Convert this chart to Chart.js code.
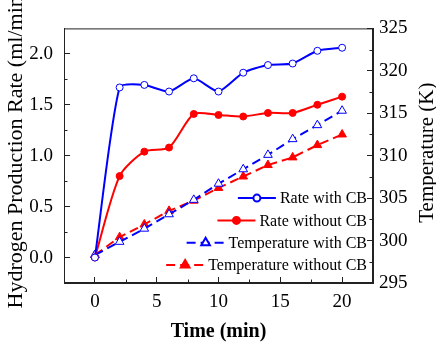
<!DOCTYPE html>
<html>
<head>
<meta charset="utf-8">
<script src="https://cdn.jsdelivr.net/npm/chart.js@4.4.1/dist/chart.umd.min.js"></script>
<style>
  html, body { margin: 0; padding: 0; background: #fff; }
</style>
</head>
<body>
<canvas id="chart" width="436" height="346"></canvas>
<script>
// values
const times = [0, 2, 4, 6, 8, 10, 12, 14, 16, 18, 20];
const rateWithCB = [0, 1.67, 1.695, 1.63, 1.76, 1.63, 1.815, 1.89, 1.905, 2.03, 2.06];
const rateWithoutCB = [0, 0.8, 1.04, 1.08, 1.41, 1.4, 1.385, 1.42, 1.42, 1.5, 1.58];
const tempWithCB = [298.3, 299.85, 301.4, 303.1, 304.8, 306.7, 308.4, 310.1, 311.95, 313.6, 315.3];
const tempWithoutCB = [298.3, 300.4, 301.9, 303.5, 304.7, 306.2, 307.55, 308.9, 309.8, 311.25, 312.5];

// tick labels
const timeTicks = [0, 5, 10, 15, 20];
const rateTicks = [0, 0.5, 1.0, 1.5, 2.0];
const tempTicks = [295, 300, 305, 310, 315, 320, 325];
const timeMinor = [2.5, 7.5, 12.5, 17.5];
const rateMinor = [0.25, 0.75, 1.25, 1.75];
const tempMinor = [297.5, 302.5, 307.5, 312.5, 317.5, 322.5];

const serif = "'Liberation Serif', 'Times New Roman', serif";
Chart.defaults.font.family = serif;
Chart.defaults.color = '#000';

const toPoints = (ys) => times.map((t, i) => ({ x: t, y: ys[i] }));
const axisColor = '#222';

function sideTitle(ctx, title, x, y) {
  ctx.save();
  ctx.fillStyle = '#000';
  ctx.font = `${title.font.size}px ${serif}`;
  ctx.textAlign = 'center';
  ctx.textBaseline = 'middle';
  ctx.translate(x, y);
  ctx.rotate(-Math.PI / 2);
  ctx.fillText(title.text, 0, 0);
  ctx.restore();
}

// frame round the plot + the short minor ticks (inward, like the original)
const framePlugin = {
  id: 'frame',
  afterDraw(chart) {
    const { ctx, chartArea: a, scales } = chart;
    ctx.save();
    ctx.strokeStyle = axisColor;
    ctx.lineWidth = 1;
    ctx.strokeRect(a.left + 0.5, a.top + 0.5, a.right - a.left - 1, a.bottom - a.top - 1);
    ctx.beginPath();
    timeMinor.forEach((v) => {
      const px = Math.round(scales.x.getPixelForValue(v)) + 0.5;
      ctx.moveTo(px, a.bottom);
      ctx.lineTo(px, a.bottom - 3.5);
    });
    rateMinor.forEach((v) => {
      const py = Math.round(scales.y.getPixelForValue(v)) + 0.5;
      ctx.moveTo(a.left, py);
      ctx.lineTo(a.left + 3.5, py);
    });
    tempMinor.forEach((v) => {
      const py = Math.round(scales.y2.getPixelForValue(v)) + 0.5;
      ctx.moveTo(a.right, py);
      ctx.lineTo(a.right - 3.5, py);
    });
    ctx.stroke();
    ctx.restore();

    // both side titles read bottom-to-top and sit a little above the middle
    const mid = (a.top + a.bottom) / 2;
    sideTitle(ctx, chart.options.scales.y.title, 16.5, mid - 7);
    sideTitle(ctx, chart.options.scales.y2.title, 427, mid - 3);
  },
};

// legend inside the plot, right aligned, line sample with marker in it
const insideLegend = {
  id: 'insideLegend',
  afterDraw(chart) {
    const { ctx, chartArea: a } = chart;
    const sets = chart.data.datasets;
    ctx.save();
    ctx.font = `16px ${serif}`;
    ctx.textBaseline = 'middle';
    ctx.textAlign = 'left';
    sets.forEach((ds, i) => {
      const y = a.bottom - 18 - (sets.length - 1 - i) * 22.3;
      const w = ctx.measureText(ds.label).width;
      const tx = a.right - 6 - w;
      const x2 = tx - 4;
      const x1 = x2 - 38;
      ctx.strokeStyle = ds.borderColor;
      ctx.lineWidth = ds.borderWidth;
      ctx.setLineDash(ds.borderDash || []);
      ctx.beginPath();
      ctx.moveTo(x1, y);
      ctx.lineTo(x2, y);
      ctx.stroke();
      ctx.setLineDash([]);
      ctx.fillStyle = ds.pointBackgroundColor;
      ctx.strokeStyle = ds.pointBorderColor;
      Chart.helpers.drawPoint(ctx, {
        pointStyle: ds.pointStyle,
        radius: ds.pointRadius,
        borderWidth: ds.pointBorderWidth,
        rotation: 0,
      }, (x1 + x2) / 2, y);
      ctx.fillStyle = '#000';
      ctx.fillText(ds.label, tx, y + 1);
    });
    ctx.restore();
  },
};

new Chart(document.getElementById('chart'), {
  type: 'line',
  data: {
    datasets: [
      {
        label: 'Rate with CB',
        data: toPoints(rateWithCB),
        yAxisID: 'y',
        borderColor: '#0000ff',
        borderWidth: 2,
        tension: 0.2,
        pointStyle: 'circle',
        pointRadius: 3.5,
        pointBorderWidth: 1,
        pointBorderColor: '#0000ff',
        pointBackgroundColor: '#ffffff',
      },
      {
        label: 'Rate without CB',
        data: toPoints(rateWithoutCB),
        yAxisID: 'y',
        borderColor: '#ff0000',
        borderWidth: 2,
        tension: 0.25,
        pointStyle: 'circle',
        pointRadius: 3.5,
        pointBorderWidth: 1,
        pointBorderColor: '#ff0000',
        pointBackgroundColor: '#ff0000',
      },
      {
        label: 'Temperature with CB',
        data: toPoints(tempWithCB),
        yAxisID: 'y2',
        borderColor: '#0000ff',
        borderWidth: 2,
        borderDash: [9, 5],
        tension: 0,
        pointStyle: 'triangle',
        pointRadius: 5,
        pointBorderWidth: 1,
        pointBorderColor: '#0000ff',
        pointBackgroundColor: '#ffffff',
      },
      {
        label: 'Temperature without CB',
        data: toPoints(tempWithoutCB),
        yAxisID: 'y2',
        borderColor: '#ff0000',
        borderWidth: 2,
        borderDash: [9, 5],
        tension: 0,
        pointStyle: 'triangle',
        pointRadius: 5,
        pointBorderWidth: 1,
        pointBorderColor: '#ff0000',
        pointBackgroundColor: '#ff0000',
      },
    ],
  },
  options: {
    responsive: false,
    animation: false,
    layout: { padding: { top: 17, left: 0, right: 0, bottom: 0 } },
    plugins: {
      legend: { display: false },
      tooltip: { enabled: false },
    },
    scales: {
      x: {
        type: 'linear',
        min: -2.5,
        max: 22.5,
        afterBuildTicks: (s) => { s.ticks = timeTicks.map((v) => ({ value: v })); },
        afterFit: (s) => { s.height = 63; },
        grid: { drawOnChartArea: false, tickLength: -6, color: axisColor },
        border: { display: true, color: axisColor },
        ticks: { padding: 14, font: { size: 19 }, maxRotation: 0 },
        title: { display: true, text: 'Time (min)', font: { size: 20, weight: 'bold' }, padding: { top: 0, bottom: 2 } },
      },
      y: {
        type: 'linear',
        position: 'left',
        min: -0.25,
        max: 2.25,
        afterBuildTicks: (s) => { s.ticks = rateTicks.map((v) => ({ value: v })); },
        afterFit: (s) => { s.width = 64; },
        grid: { drawOnChartArea: false, tickLength: -6, color: axisColor },
        border: { display: true, color: axisColor },
        ticks: { padding: 17, font: { size: 19 }, callback: (v) => v.toFixed(1) },
        title: { display: false, text: 'Hydrogen Production Rate (ml/min)', font: { size: 22 } },
      },
      y2: {
        type: 'linear',
        position: 'right',
        min: 295,
        max: 325,
        afterBuildTicks: (s) => { s.ticks = tempTicks.map((v) => ({ value: v })); },
        afterFit: (s) => { s.width = 63; },
        grid: { drawOnChartArea: false, tickLength: -6, color: axisColor },
        border: { display: true, color: axisColor },
        ticks: { padding: 12, font: { size: 19 } },
        title: { display: false, text: 'Temperature (K)', font: { size: 21 } },
      },
    },
  },
  plugins: [framePlugin, insideLegend],
});
</script>
</body>
</html>
